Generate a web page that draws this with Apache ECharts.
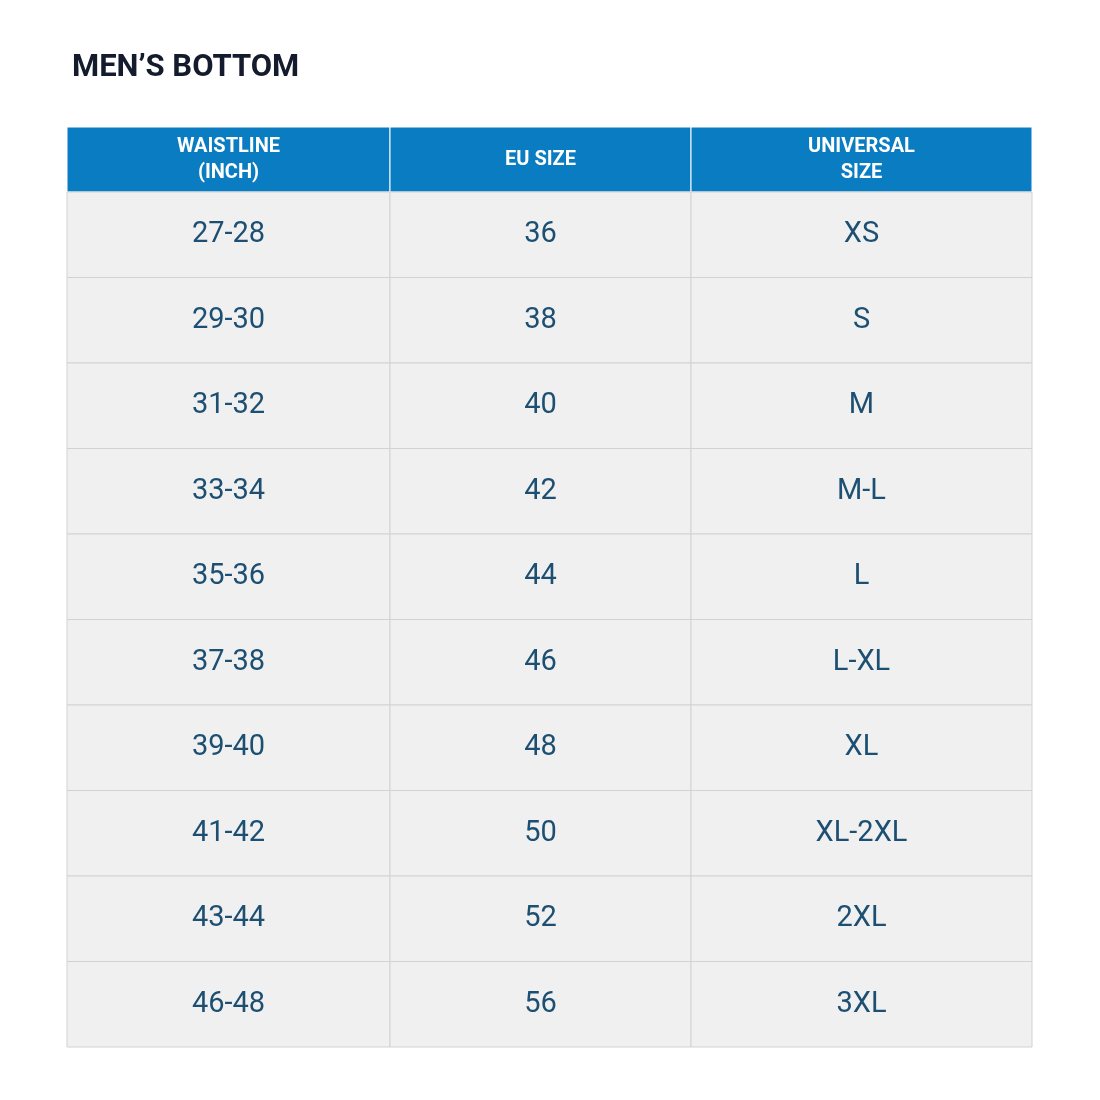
<!DOCTYPE html>
<html><head><meta charset="utf-8">
<script src="https://cdn.jsdelivr.net/npm/echarts@6/dist/echarts.min.js"></script>
<style>html,body{margin:0;padding:0;background:#fff}#c{width:1100px;height:1100px}</style>
</head><body><div id="c"></div>
<script>
const title = "MEN’S BOTTOM";
const headers = ["WAISTLINE\n(INCH)", "EU SIZE", "UNIVERSAL\nSIZE"];
const waistline = ["27-28","29-30","31-32","33-34","35-36","37-38","39-40","41-42","43-44","46-48"];
const euSize = ["36","38","40","42","44","46","48","50","52","56"];
const universal = ["XS","S","M","M-L","L","L-XL","XL","XL-2XL","2XL","3XL"];

// layout constants (px in grid units)
const colEdges = [0, 323, 624, 965];
const headerH = 65, rowH = 85.5;
const totalH = headerH + rowH * waistline.length;

const cols = [waistline, euSize, universal];
const data = [];
headers.forEach((h, c) => data.push([c, -1, h]));
cols.forEach((arr, c) => arr.forEach((v, r) => data.push([c, r, v])));

const chart = echarts.init(document.getElementById('c'));
chart.setOption({
  backgroundColor: '#fff',
  title: { text: title, left: 67, top: 48, textStyle: { fontFamily: 'Roboto', fontWeight: 'bold', fontSize: 31, color: '#141b2d' } },
  grid: { left: 67, right: 68, top: 127, bottom: 53 },
  xAxis: { type: 'value', min: 0, max: colEdges[3], show: false },
  yAxis: { type: 'value', min: 0, max: totalH, inverse: true, show: false },
  series: [{
    type: 'custom',
    data: data,
    renderItem: function (params, api) {
      const c = api.value(0), r = api.value(1), txt = data[params.dataIndex][2];
      const y0 = r < 0 ? 0 : headerH + r * rowH;
      const y1 = r < 0 ? headerH : y0 + rowH;
      const p0 = api.coord([colEdges[c], y0]);
      const p1 = api.coord([colEdges[c + 1], y1]);
      const isH = r < 0;
      return {
        type: 'group',
        children: [
          { type: 'rect', shape: { x: p0[0], y: p0[1], width: p1[0] - p0[0], height: p1[1] - p0[1] },
            style: { fill: isH ? '#0a7cc1' : '#f0f0f0', stroke: isH ? '#ffffff' : '#d2d2d2', lineWidth: 1 } },
          { type: 'text', x: (p0[0] + p1[0]) / 2, y: (p0[1] + p1[1]) / 2,
            style: { text: txt, align: 'center', verticalAlign: 'middle',
              fill: isH ? '#ffffff' : '#1d4f72',
              font: isH ? 'bold 20px Roboto' : '29px Roboto', lineHeight: 26 } }
        ]
      };
    }
  }]
});
</script></body></html>
